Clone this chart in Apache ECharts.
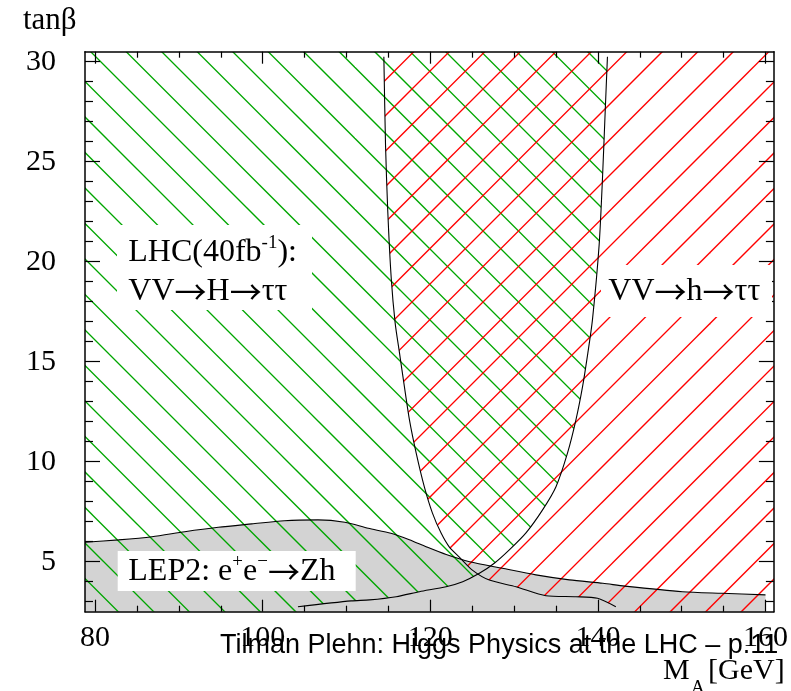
<!DOCTYPE html>
<html><head><meta charset="utf-8">
<script src="https://cdn.jsdelivr.net/npm/echarts@6/dist/echarts.min.js"></script>
<style>html,body{margin:0;padding:0;background:#fff}#c{width:791px;height:691px}</style>
</head><body><div id="c"></div>
<script>
// ---------- data ----------
const maRange = [78.8, 161];
const tanbRange = [2.5, 30.5];
const maTicks = [80, 100, 120, 140, 160];
const maMinorTicks = [85, 90, 95, 105, 110, 115, 125, 130, 135, 145, 150, 155];
const tanbTicks = [5, 10, 15, 20, 25, 30];
const tanbMinorTicks = [3, 4, 6, 7, 8, 9, 11, 12, 13, 14, 16, 17, 18, 19, 21, 22, 23, 24, 26, 27, 28, 29];

// LEP2 e+e- -> Zh excluded region, upper boundary [M_A, tanb]
const lepBoundary = [[78.8,5.97],[82.8,6.09],[86.8,6.25],[90.7,6.5],[94.7,6.72],[98.7,6.89],[102.6,7.05],[106.6,7.09],[109.8,6.97],[112.6,6.67],[115.3,6.42],[117.5,6.1],[119.5,5.75],[121.9,5.36],[124.7,5.0],[128.6,4.67],[132.6,4.34],[136.6,4.09],[140.6,3.92],[143.2,3.78],[150.1,3.5],[154.8,3.42],[160.0,3.34]];
// LHC 40fb-1 VV->H->tautau reach boundary (green region to the left)
const curveH = [[141.14,30.25],[140.87,27.5],[140.55,24.19],[140.15,20.84],[139.35,17.09],[138.8,15.43],[138.17,13.75],[137.38,12.09],[136.38,10.44],[135.0,8.75],[133.4,7.59],[131.42,6.44],[129.43,5.59],[127.64,4.92],[125.86,4.42],[123.87,4.0],[121.89,3.75],[118.71,3.5],[115.93,3.25],[112.75,3.09],[110.57,3.04],[104.21,2.75]];
// LHC VV->h->tautau reach boundary (red region to the right)
const curveh = [[114.46,30.25],[114.66,25.83],[114.93,22.5],[115.34,19.18],[115.81,16.93],[116.33,15.43],[116.92,13.73],[117.52,12.08],[118.32,10.43],[119.3,8.73],[120.26,7.43],[121.29,6.43],[122.28,5.73],[123.47,5.23],[125.02,4.58],[127.05,4.08],[130.23,3.75],[133.8,3.3],[137.38,3.25],[139.95,3.17],[142.14,2.75]];

// ---------- styles ----------
const GREEN = 'rgb(0,166,0)', RED = '#ff0000', GRAY = '#d3d3d3';
const SERIF = 'Liberation Serif', SANS = 'Liberation Sans', ARROWF = 'Noto Sans CJK SC';

function hatch(color, dir, phase) {
  const S = 35.5, W = 355;
  const c = document.createElement('canvas'); c.width = W; c.height = W;
  const ctx = c.getContext('2d');
  ctx.strokeStyle = color; ctx.lineWidth = 1.3;
  for (let k = -25; k <= 25; k++) {
    const off = phase + k * S;
    ctx.beginPath();
    if (dir === 'down') { ctx.moveTo(-20, -20 + off); ctx.lineTo(W + 20, W + 20 + off); }
    else { ctx.moveTo(-20, off + 20); ctx.lineTo(W + 20, off - W - 20); }
    ctx.stroke();
  }
  return c;
}
const greenFill = { image: hatch(GREEN, 'down', 32), repeat: 'repeat' };
const redFill = { image: hatch(RED, 'up', 4), repeat: 'repeat' };

// polygons built from the data arrays
const [xmin, xmax] = maRange, [ymin, ymax] = tanbRange;
const lepPoly = lepBoundary.concat([[lepBoundary[lepBoundary.length-1][0], ymin], [lepBoundary[0][0], ymin]]);
const greenPoly = [[xmin, ymax], [curveH[0][0], ymax]].concat(curveH, [[curveH[curveH.length-1][0], ymin], [xmin, ymin]]);
const redPoly = [[curveh[0][0], ymax], [xmax, ymax], [xmax, ymin], [curveh[curveh.length-1][0], ymin]].concat(curveh.slice().reverse());

function polySeries(pts, fill) {
  return { type: 'custom', data: [0], clip: true, silent: true,
    renderItem: (params, api) => ({ type: 'polygon', shape: { points: pts.map(p => api.coord(p)) }, style: { fill: fill, stroke: null } }) };
}
function curveSeries(pts) {
  return { type: 'line', data: pts, showSymbol: false, symbol: 'none', smooth: 0.25, silent: true,
    lineStyle: { color: '#000', width: 1.1 }, z: 5 };
}

function xAxis(pos, values, len, labels) {
  return { type: 'value', position: pos, min: xmin, max: xmax, z: 10,
    axisLine: { show: len > 10, onZero: false, lineStyle: { color: '#000', width: 1.5 } },
    axisTick: { show: true, inside: true, length: len, customValues: values, lineStyle: { color: '#000', width: 1.2 } },
    axisLabel: { show: labels, customValues: values, margin: 11, color: '#000', fontFamily: SERIF, fontSize: 30, lineHeight: 30 },
    splitLine: { show: false } };
}
function yAxis(pos, values, len, labels) {
  return { type: 'value', position: pos, min: ymin, max: ymax, z: 10,
    axisLine: { show: len > 10, onZero: false, lineStyle: { color: '#000', width: 1.5 } },
    axisTick: { show: true, inside: true, length: len, customValues: values, lineStyle: { color: '#000', width: 1.2 } },
    axisLabel: { show: labels, customValues: values, margin: 29, color: '#000', fontFamily: SERIF, fontSize: 30 },
    splitLine: { show: false } };
}

function txt(x, y, text, fs, family, extra) {
  return Object.assign({ type: 'text', x: x, y: y, z: 100, silent: true,
    style: Object.assign({ text: text, fontSize: fs, fontFamily: family || SERIF, fill: '#000', align: 'left', verticalAlign: 'middle' }, extra || {}) });
}
function box(x, y, w, h) {
  return { type: 'rect', z: 99, silent: true, shape: { x: x, y: y, width: w, height: h }, style: { fill: '#fff' } };
}
const n = { fontSize: 32, fontFamily: SERIF, fill: '#000', lineHeight: 39 };
const a = { fontSize: 32, fontFamily: ARROWF, fill: '#000', lineHeight: 39 };
const rich = (sLH) => ({ n: n, a: a, s: { fontSize: 19, fontFamily: SERIF, fill: '#000', lineHeight: sLH, verticalAlign: 'top' } });

const chart = echarts.init(document.getElementById('c'), null, { renderer: 'canvas' });
chart.setOption({
  animation: false,
  backgroundColor: '#fff',
  grid: { left: 85, width: 690, top: 51.7, height: 560 },
  xAxis: [xAxis('bottom', maTicks, 12, true), xAxis('bottom', maMinorTicks, 6, false),
          xAxis('top', maTicks, 12, false), xAxis('top', maMinorTicks, 6, false)],
  yAxis: [yAxis('left', tanbTicks, 15, true), yAxis('left', tanbMinorTicks, 8, false),
          yAxis('right', tanbTicks, 15, false), yAxis('right', tanbMinorTicks, 8, false)],
  series: [
    polySeries(lepPoly, GRAY),
    polySeries(greenPoly, greenFill),
    polySeries(redPoly, redFill),
    curveSeries(lepBoundary),
    curveSeries(curveH),
    curveSeries(curveh)
  ],
  graphic: { elements: [
    box(117, 225, 195, 85),
    box(601, 265, 171, 52),
    box(117.7, 551, 238, 40),
    txt(128.3, 233.4, '{n|LHC(40fb}{s|-1}{n|):}\n{n|VV}{a|→}{n|H}{a|→}{n|ττ}', 32, SERIF,
        { verticalAlign: 'top', rich: rich(28) }),
    txt(608.3, 272.4, '{n|VV}{a|→}{n|h}{a|→}{n|ττ}', 32, SERIF, { verticalAlign: 'top', rich: rich(28) }),
    txt(128.3, 552.4, '{n|LEP2: e}{s|+}{n|e}{s|−}{a|→}{n|Zh}', 32, SERIF,
        { verticalAlign: 'top', rich: rich(17) }),
    txt(23, 20.5, 'tanβ', 31),
    txt(220, 645.6, 'Tilman Plehn: Higgs Physics at the LHC – p.11', 27, SANS),
    txt(663, 670.85, 'M', 30),
    txt(691, 688.5, 'A', 19),
    txt(708, 670.85, '[GeV]', 30)
  ] }
});
</script>
</body></html>
